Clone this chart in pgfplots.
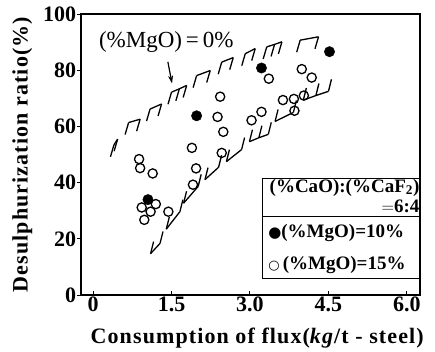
\documentclass[border=0pt]{standalone}
\usepackage{fontspec}
\setmainfont{Liberation Serif}
\newfontfamily\sym{DejaVu Sans}
\usepackage{array}
\usepackage{pgfplots}
\pgfplotsset{compat=1.18}
\usetikzlibrary{arrows.meta}
\pgfdeclareplotmark{hdown}{\pgfpathmoveto{\pgfpointorigin}\pgfpathlineto{\pgfpoint{-3.5pt}{-12pt}}\pgfusepathqstroke}
\pgfdeclareplotmark{hup}{\pgfpathmoveto{\pgfpointorigin}\pgfpathlineto{\pgfpoint{3pt}{12pt}}\pgfusepathqstroke}
\begin{document}
\begin{tikzpicture}
\begin{axis}[
  scale only axis, width=339pt, height=281pt,
  xmin=-0.235, xmax=6.25, ymin=0, ymax=100,
  xtick={0,1.5,3,4.5,6}, xticklabels={0,1.5,3.0,4.5,6.0},
  ytick={0,20,40,60,80,100},
  /pgf/number format/assume math mode=true,
  axis line style={line width=1.6pt},
  tick style={line width=1pt, black},
  tick align=outside, major tick length=4pt, tick pos=left,
  xtick style={yshift=4pt},
  ticklabel style={font=\fontsize{22}{24}\selectfont\bfseries},
  xticklabel style={yshift=6pt},
  yticklabel style={xshift=3pt},
  xlabel={Consumption of flux(\textit{kg}/t - steel)},
  ylabel={Desulphurization ratio(\%)},
  label style={font=\fontsize{22}{24}\selectfont\bfseries\addfontfeatures{LetterSpace=5}},
  xlabel style={at={([yshift=-43pt]axis description cs:0.52,0)}, anchor=center},
  ylabel style={at={([xshift=-58.5pt]axis description cs:0,0.5)}, anchor=center},
  unbounded coords=jump,
  clip=false,
]
% upper hatched boundary (MgO = 0%)
\addplot[line width=1.3pt, mark=hdown, mark options={line width=1.3pt}] coordinates {
  (0.40,53.5) (0.47,55.5) (nan,nan)
  (0.68,61.4) (0.90,62.6) (nan,nan)
  (1.09,66.2) (1.31,68.0) (nan,nan)
  (1.50,72.2) (1.65,73.4) (1.79,74.6) (nan,nan)
  (1.98,78.1) (2.24,79.9) (nan,nan)
  (2.46,82.9) (2.68,84.5) (nan,nan)
  (2.91,85.9) (3.10,87.7) (nan,nan)
  (3.32,88.3) (3.47,89.2) (3.61,90.1) (nan,nan)
  (3.96,90.7) (4.31,91.9)};
% lower hatched boundary
\addplot[line width=1.3pt, mark=hup, mark options={line width=1.3pt}] coordinates {
  (1.10,14.8) (1.28,18.4) (nan,nan)
  (1.40,23.5) (1.66,29.7) (nan,nan)
  (1.73,32.7) (2.01,38.7) (nan,nan)
  (2.14,41.1) (2.40,45.5) (nan,nan)
  (2.55,47.5) (2.84,51.8) (nan,nan)
  (2.99,54.6) (3.17,56.0) (3.35,57.2) (nan,nan)
  (3.48,61.8) (3.83,65.0) (nan,nan)
  (4.02,69.4) (4.26,71.0) (4.50,72.5)};
% (%MgO)=15%
\addplot[only marks, mark=o, mark size=4.6pt, mark options={line width=1.3pt, fill=white}] coordinates {
  (0.88,48.4) (0.90,45.2) (1.14,43.3) (0.93,31.2) (1.20,32.4) (1.10,29.7) (0.98,26.8) (1.44,29.7)
  (1.91,39.3) (1.97,45.1) (1.89,52.4) (2.43,70.6) (2.38,63.4) (2.49,58.1) (2.46,50.6)
  (3.03,62.2) (3.22,65.2) (3.36,77) (3.63,69.4) (3.84,69.8) (4.03,71) (3.85,65.6) (3.99,80.4) (4.18,77.4)};
% (%MgO)=10%
\addplot[only marks, mark=*, mark size=5.2pt, black] coordinates {
  (1.05,34) (1.98,63.8) (3.22,80.8) (4.52,86.6)};
\node[font=\fontsize{23}{24}\selectfont] at (axis cs:1.40,90) {(\%MgO)\,=\,0\%};
\draw[-{Stealth[length=8pt,width=5pt]}, line width=1.2pt] (axis cs:1.43,83) -- (axis cs:1.51,75.3);
\node[draw, line width=1.2pt, inner sep=0pt, anchor=north east, fill=white,
  font=\fontsize{19}{17}\selectfont\bfseries] at (axis cs:6.25,41.6) {%
  \begin{tabular}{@{}p{157pt}@{}}
  \raggedleft\arraybackslash (\%CaO):(\%CaF\textsubscript{2})\hspace*{1pt}\\[3pt]
  \raggedleft\arraybackslash $=$6:4\hspace*{6pt}\\[-2pt]
  \hline
  \rule{0pt}{21pt}\hspace*{6pt}{\fontsize{15}{15}\sym ●}(\%MgO)=10\%\\[14pt]
  \hspace*{6pt}{\fontsize{13}{13}\sym ○}\,(\%MgO)=15\%\\[4pt]
  \end{tabular}};
\end{axis}
\path ([xshift=-80.7pt,yshift=-56pt]current axis.south west) rectangle ([xshift=15pt,yshift=14pt]current axis.north east);
\end{tikzpicture}
\end{document}
